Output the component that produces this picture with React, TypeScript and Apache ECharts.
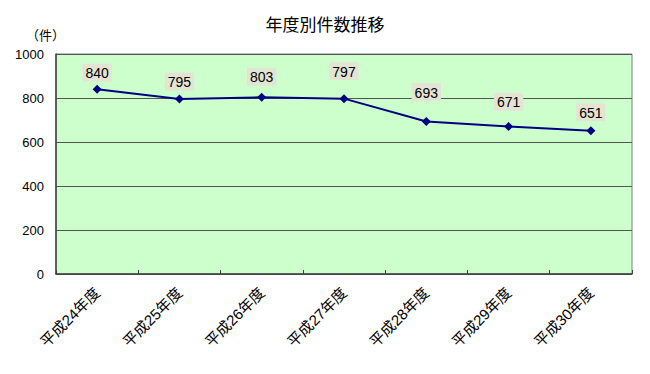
import React, { useEffect, useRef } from "react";
import * as echarts from "echarts";

const categories = ["平成24年度", "平成25年度", "平成26年度", "平成27年度", "平成28年度", "平成29年度", "平成30年度"];
const counts = [840, 795, 803, 797, 693, 671, 651];
const yMin = 0;
const yMax = 1000;
const yStep = 200;
// style only: gap between each marker and its value label (px)
const labelLift = [3, 4, 7, 14, 16, 11, 5];

const FONT = 'Arial, "Liberation Sans", "Noto Sans CJK JP", sans-serif';

export default function App() {
  const ref = useRef<HTMLDivElement>(null);
  useEffect(() => {
    if (!ref.current) return;
    const chart = echarts.init(ref.current, null, { renderer: "svg" });
    chart.setOption({
      animation: false,
      backgroundColor: "#ffffff",
      title: {
        text: "年度別件数推移",
        left: "center",
        top: 12,
        textStyle: { fontFamily: FONT, fontSize: 17, fontWeight: "normal", color: "#000" },
      },
      graphic: [
        {
          type: "text",
          left: 26,
          top: 29,
          style: { text: "（件）", fontFamily: FONT, fontSize: 13, fill: "#000" },
        },
      ],
      grid: { left: 56, right: 18, top: 54, bottom: 100, show: true, backgroundColor: "#ccffcc", borderColor: "#808080", borderWidth: 1 },
      xAxis: {
        type: "category",
        data: categories,
        boundaryGap: true,
        axisLine: { show: true, lineStyle: { color: "#404040", width: 1.5 } },
        axisTick: { show: true, inside: true, length: 4, lineStyle: { color: "#404040" } },
        axisLabel: {
          rotate: 45,
          interval: 0,
          fontFamily: FONT,
          fontSize: 15,
          color: "#000",
          margin: 16,
        },
      },
      yAxis: {
        type: "value",
        min: yMin,
        max: yMax,
        interval: yStep,
        axisLine: { show: true, lineStyle: { color: "#404040", width: 1.5 } },
        axisTick: { show: false },
        splitLine: { show: true, lineStyle: { color: "#555555", width: 1 } },
        axisLabel: {
          fontFamily: FONT,
          fontSize: 13,
          color: "#000",
          margin: 12,
          formatter: (v: number) => String(v),
        },
      },
      series: [
        {
          type: "line",
          data: counts.map((v, i) => ({ value: v, label: { distance: labelLift[i] } })),
          symbol: "diamond",
          symbolSize: 9,
          lineStyle: { color: "#000080", width: 2 },
          itemStyle: { color: "#000080" },
          label: {
            show: true,
            position: "top",
            fontFamily: FONT,
            fontSize: 14,
            lineHeight: 15,
            color: "#000",
            backgroundColor: "#e4e4d4",
            padding: [2, 3, 1, 3],
          },
        },
      ],
    });
    return () => chart.dispose();
  }, []);
  return <div ref={ref} style={{ position: "fixed", left: 0, top: 0, width: 650, height: 374 }} />;
}
